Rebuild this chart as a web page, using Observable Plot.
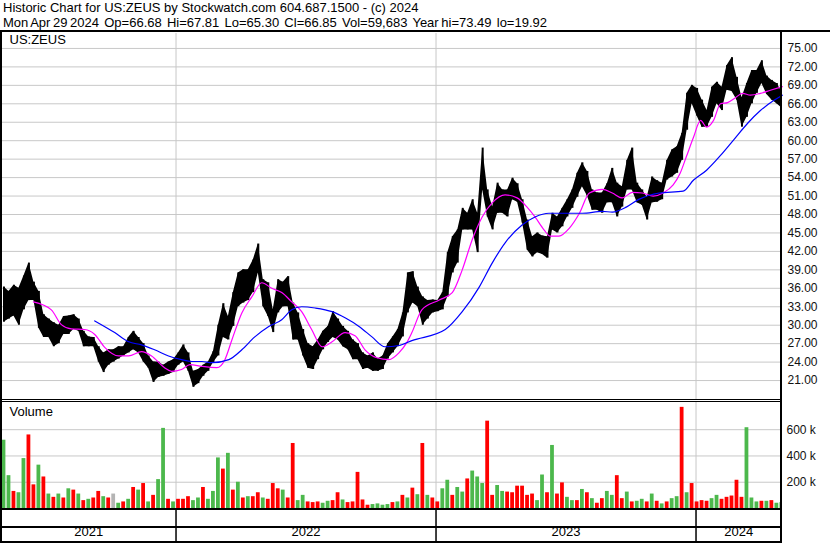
<!DOCTYPE html>
<html><head><meta charset="utf-8">
<script src="https://cdn.jsdelivr.net/npm/d3@7"></script>
<script src="https://cdn.jsdelivr.net/npm/@observablehq/plot@0.6"></script>
<style>
body{margin:0;background:#fff;font-family:Arial,"Liberation Sans",sans-serif;}
#wrap{position:relative;width:830px;height:543px;overflow:hidden;background:#fff;}
.hdr{position:absolute;left:3px;font-size:13px;line-height:14px;white-space:pre;color:#000;}
.ln{position:absolute;background:#000;}
.pl{position:absolute;left:0;}
.pl svg{display:block;}
</style></head><body><div id="wrap"></div>
<script>
// ---------- DATA ----------
const titleLine = "Historic Chart for US:ZEUS by Stockwatch.com 604.687.1500 - (c) 2024";
const infoLine = "Mon Apr 29 2024  Op=66.68  Hi=67.81  Lo=65.30  Cl=66.85  Vol=59,683  Year hi=73.49  lo=19.92";
const symbol = "US:ZEUS";
const startDate = "2021-05-01";
const endDate = "2024-04-30";
const yearStarts = ["2022-01-01","2023-01-01","2024-01-01"];
const yearLabels = ["2021","2022","2023","2024"];
const priceTicks = [21,24,27,30,33,36,39,42,45,48,51,54,57,60,63,66,69,72,75];
const volumeTicks = [200,400,600]; // thousands

// weekly high / low (week i starts startDate + 7*i days)
const weekHigh = [36.2,35.5,36.5,36,38,40.1,37,35.5,31.7,31,30.4,30,31.4,31.5,31.7,31,29,28.1,28,26.5,25.5,26,26,26.5,26.5,28,29,28,27,25,24,24,23.5,24,24.4,25.5,26.8,25.5,22.5,22.8,23.5,24,25.7,30,33.5,31.4,35.3,38.5,39,39,40.6,43.2,37.4,36.9,32.5,37.4,37,37.9,33.6,32,29.3,27,26.5,27.6,29,29.8,32.2,31,29.8,29,27.6,27,25.5,25,25.5,24.5,25,27,28.1,29.3,32,38.5,38.7,36.2,34.6,34,34.1,34,35.3,41.8,44.4,45.5,49,48.2,50.4,48.2,58.8,52,49.2,53.1,52,52,53.9,53,50.4,47.1,44.4,45,44.5,44.4,48.2,47.6,49,50.4,52,54.7,56.4,55,52,51.5,51.5,53,55.5,53.1,52.5,56.8,58.8,53.1,52,50.8,54.1,53.5,53.1,56.8,58.5,59,61.2,67.7,69,68.5,66.6,64.9,68.7,69.5,68.7,72.2,73.5,70.3,67,69.3,71.4,71.4,73,70.5,69.8,69.3,68];
const weekLow = [30.5,31,31.5,30,32.5,34,34,29.5,28,28,26.5,27,28.5,28.5,29.3,29,26.5,26.5,26.5,24,22.3,23.5,24,24.5,25,25.5,26,25.5,24,23,20.7,21.5,21.7,22,22.3,23.5,24,22.5,19.9,20.5,21.7,22.5,23.9,25,28,27.6,29.8,33,33.6,34,35.3,38.5,33,31.4,28.8,32,33,33,27.6,27.6,25,23,22.8,24.4,26,27.2,28,27.6,26.5,26,24.4,24.4,22.8,23,22.5,22.5,22.8,24.5,25.5,26.5,28.1,32,33.6,33,30,31,32,32.2,32.5,34.6,38.5,40.1,45.5,45.5,45.5,41.8,52,47.6,45.5,48.2,48.2,47.6,50.4,50,46.6,42.2,41.1,41.8,41.5,40.9,45.5,45,46,47.6,49,50.8,52.5,51,48.7,48.7,48.2,49.9,49.9,47.6,49.2,52,52,49.9,49.5,47.1,49.9,50,50.4,53.6,54.1,54.7,56.8,61.7,66,64,62.2,62.2,63.8,66,64.9,68.2,68,66.6,62.2,63.8,66,67.7,69.3,67.5,66.6,66,65.3];

// moving averages (position in weeks from startDate, value)
const maShortWeek = [6.4,10,12,14,16.7,18.7,20.7,23.5,25.5,28.1,30.1,32.7,34.1,36.1,37.8,40.2,43.2,44.8,46.2,48.2,50.2,52.2,54.2,56.2,58.2,60.2,62.2,64.3,66.3,68.9,70.9,72.9,75.3,77.7,79.7,81.3,82.3,84.3,87.8,90.4,92.4,94.4,96.4,98.4,101,103.4,105.4,107,108.8,110,111.8,113.9,115.9,117.9,120.5,122.5,124.5,126.5,128.5,130.7,132.7,134.7,136.1,137.3,138.8,140.2,141.4,142.8,144.2,145.6,147.2,148.6,150.2,152.2,154.2,156.6];
const maShortVal = [33.8,32.5,30.1,29.4,29.3,28.5,26.4,25,25,25.7,25,23.1,22.5,22.8,23.6,23.3,23.1,24.4,27.6,32,34.6,36.9,36,35.3,33.8,32.2,29.3,26.5,27.3,28.8,28.3,26,24.7,24.4,25.5,27.2,28.8,32.5,34.1,35.3,39,43.9,47.6,49.9,51.2,50.7,49.2,47.6,45.5,44.5,44.5,45.8,48.2,51.5,52.1,51.5,50.7,51.6,51.5,51,51.5,52.8,54.7,57.3,60.6,63.3,62.2,63.3,66,66.2,67,67.7,67.4,67.7,68.2,68.8];
const maLongWeek = [18.7,22.7,25.5,28.1,30.7,33.5,36.1,38.2,40.2,42.2,45.6,48.2,50.8,53.6,56.2,58.2,60.2,62.9,66.3,68.9,71.7,74.3,76.9,79.7,82.3,89,92.4,95.8,98.4,101,104.4,107,109.8,113.9,116.5,120.5,122.5,125.3,127.9,131.9,136.7,138.8,141.4,144.2,146.8,149.6,152.2,155,156.6];
const maLongVal = [30.7,28.8,27.3,26.8,26,25,24.4,24.1,24.1,23.9,24.4,26,28.1,29.8,30.9,32.5,33,32.8,32.2,31.2,29.8,28.1,26.5,26.7,27.5,29.3,32.2,36.2,40.1,43.4,46.3,47.6,48.2,48.2,48.2,48.5,48.4,49.2,50.5,51.5,51.8,53.6,55.2,57.6,60.1,62.8,64.9,66.6,67.4];

// weekly volume (thousands) and bar colour (g = up, r = down, y = unchanged)
const weekVolume = [520,250,130,120,380,560,180,330,240,110,85,110,80,150,140,110,60,70,80,130,90,80,110,40,50,70,160,140,190,50,100,220,610,70,50,70,70,90,60,80,160,70,130,385,300,420,140,200,80,90,90,120,80,70,190,150,140,80,495,60,100,50,45,50,40,55,60,120,65,45,50,275,65,25,30,35,25,30,45,50,100,80,155,105,495,100,80,50,150,215,100,160,125,225,285,240,190,665,100,175,130,125,120,170,170,100,110,60,255,120,480,110,195,85,60,60,145,120,75,40,75,130,100,250,75,125,50,55,70,50,110,55,35,50,75,90,770,120,190,50,60,55,75,100,70,85,95,215,85,615,80,50,55,55,60,40,45];
const weekVolColor = "ggrggrrgrgrgrgrgrgrrgrygrgrgrgrggrgrrrggrgggrgrgrgrrgrrrgrrggrrrggrrgrrrrrggggrgrgrgrgrrggrggrgggrrggrrrrrrggrgrrggrgrgrrggrrgrggrgrgrggrgrrrrggrrrrrgggrgrggg";

// ---------- BUILD ----------
const FONT = 'Arial, "Liberation Sans", sans-serif';
const parse = d3.utcParse("%Y-%m-%d");
const x0 = parse(startDate), x1 = parse(endDate);
const years = yearStarts.map(parse);
const wk = w => new Date(x0.getTime() + w * 7 * 864e5);

const bars = weekHigh.map((h, i) => ({a: wk(i), b: wk(i + 1), m: wk(i + 0.5), hi: h, lo: weekLow[i]}));
const maShort = maShortWeek.map((w, i) => ({d: wk(w), v: maShortVal[i]}));
const maLong = maLongWeek.map((w, i) => ({d: wk(w), v: maLongVal[i]}));
const colMap = {g: "#4cb84c", r: "#ff0000", y: "#b4b4b4"};
const vols = weekVolume.map((v, i) => ({a: wk(i), b: wk(i + 1), v, c: colMap[weekVolColor[i]] || "#4cb84c"}));

const xOpt = {type: "utc", domain: [x0, x1], axis: null};
const W = 830, ML = 1, MR = 49;

const pricePlot = Plot.plot({
  width: W, height: 366, marginLeft: ML, marginRight: MR, marginTop: 0, marginBottom: 0,
  x: xOpt,
  y: {domain: [17.92, 77.43], axis: null},
  style: {fontFamily: FONT, fontSize: "12px", overflow: "visible", background: "transparent"},
  marks: [
    Plot.gridY(priceTicks, {stroke: "#c8c8c8", strokeOpacity: 1}),
    Plot.ruleX(years, {stroke: "#c8c8c8", strokeWidth: 1}),
    Plot.areaY(bars, {x: "m", y1: "lo", y2: "hi", fill: "#000", curve: "linear", clip: true}),
    Plot.ruleX(bars, {x: "m", y1: "lo", y2: "hi", stroke: "#000", strokeWidth: 2, clip: true}),
    Plot.line(maShort, {x: "d", y: "v", stroke: "#ff00ff", strokeWidth: 1.2, curve: "monotone-x"}),
    Plot.line(maLong, {x: "d", y: "v", stroke: "#0000ff", strokeWidth: 1.2, curve: "monotone-x"}),
    Plot.axisY(priceTicks, {anchor: "right", label: null, tickSize: 0, tickPadding: 6, tickFormat: d3.format(".2f"), fill: "#111", fontSize: 12}),
    Plot.text([symbol], {frameAnchor: "top-left", dx: 8, dy: 1, textAnchor: "start", fontSize: 13, fill: "#000"})
  ]
});

const volPlot = Plot.plot({
  width: W, height: 106, marginLeft: ML, marginRight: MR, marginTop: 0, marginBottom: 0,
  x: xOpt,
  y: {domain: [0, 807], axis: null},
  style: {fontFamily: FONT, fontSize: "12px", overflow: "visible", background: "transparent"},
  marks: [
    Plot.gridY(volumeTicks, {stroke: "#c8c8c8", strokeOpacity: 1}),
    Plot.ruleX(years, {stroke: "#c8c8c8", strokeWidth: 1}),
    Plot.rect(vols, {x1: "a", x2: "b", y1: 0, y2: "v", fill: "c", insetLeft: 0.6, insetRight: 0.6, clip: true}),
    Plot.axisY(volumeTicks, {anchor: "right", label: null, tickSize: 0, tickPadding: 5, tickFormat: d => d + " k", fill: "#111", fontSize: 12}),
    Plot.text(["Volume"], {frameAnchor: "top-left", dx: 8, dy: 4, textAnchor: "start", fontSize: 13, fill: "#000"})
  ]
});

const bounds = [x0, ...years, x1];
const labelData = yearLabels.map((t, i) => ({t, d: new Date((bounds[i].getTime() + bounds[i + 1].getTime()) / 2)}));
const axisPlot = Plot.plot({
  width: W, height: 33, marginLeft: ML, marginRight: MR, marginTop: 0, marginBottom: 0,
  x: xOpt,
  style: {fontFamily: FONT, fontSize: "13px", overflow: "visible", background: "transparent"},
  marks: [
    Plot.ruleX(years, {stroke: "#000", strokeWidth: 1.5}),
    Plot.text(labelData, {x: "d", text: "t", frameAnchor: "bottom", dy: -8, fontSize: 13, fill: "#000"})
  ]
});

const wrap = document.getElementById("wrap");
function add(el, top) { const d = document.createElement("div"); d.className = "pl"; d.style.top = top + "px"; d.appendChild(el); wrap.appendChild(d); }
function hdr(t, top, ws) { const d = document.createElement("div"); d.className = "hdr"; d.style.top = top + "px"; if (ws) d.style.wordSpacing = ws; d.textContent = t; wrap.appendChild(d); }
function line(l, t, w, h) { const d = document.createElement("div"); d.className = "ln"; Object.assign(d.style, {left: l + "px", top: t + "px", width: w + "px", height: h + "px"}); wrap.appendChild(d); }

hdr(titleLine, 1);
hdr(infoLine, 16, "-1px");
add(pricePlot, 33);
add(volPlot, 402);
add(axisPlot, 510);
line(0, 30, 830, 2);     // header rule
line(0, 30, 2, 513);     // left border
line(780, 30, 2, 513);   // right axis rule
line(0, 399, 782, 1);    // panel separator (double)
line(0, 401, 782, 1);
line(0, 508, 782, 2);    // volume bottom
line(0, 526, 782, 2);    // year band rule
line(0, 541, 782, 2);    // bottom
</script></body></html>
